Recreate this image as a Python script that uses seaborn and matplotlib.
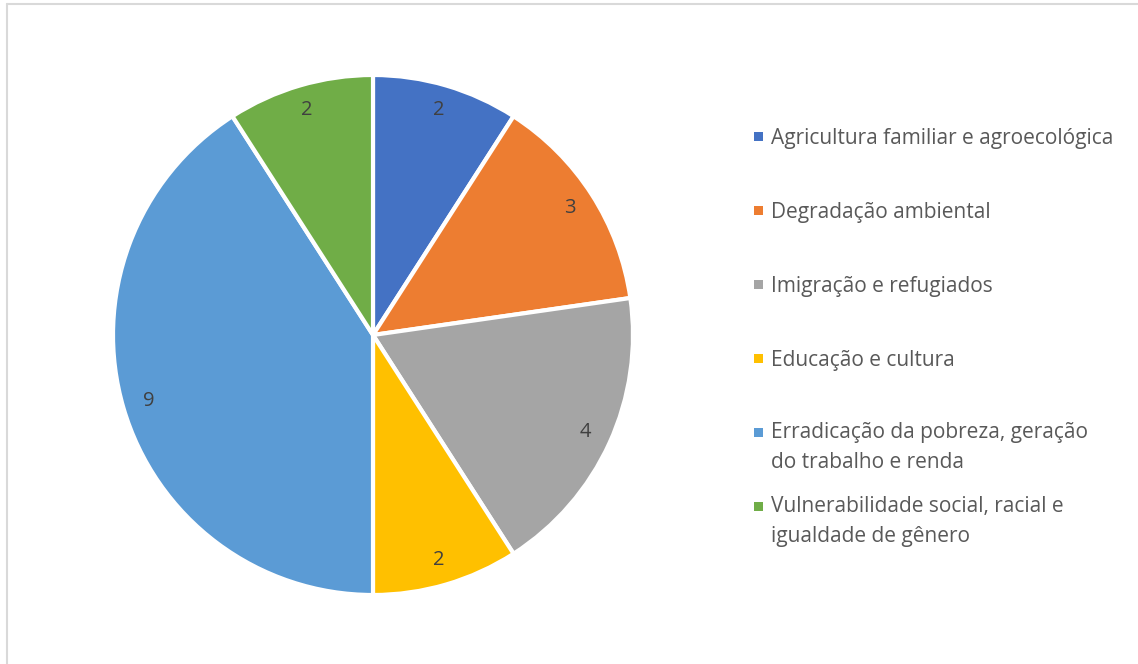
import matplotlib
matplotlib.use("Agg")
import matplotlib.pyplot as plt
import seaborn as sns
from matplotlib.patches import Rectangle
from matplotlib.lines import Line2D

categories = [
    "Agricultura familiar e agroecológica",
    "Degradação ambiental",
    "Imigração e refugiados",
    "Educação e cultura",
    "Erradicação da pobreza, geração\ndo trabalho e renda",
    "Vulnerabilidade social, racial e\nigualdade de gênero",
]
values = [2, 3, 4, 2, 9, 2]
colors = ["#4472C4", "#ED7D31", "#A5A5A5", "#FFC000", "#5B9BD5", "#70AD47"]

sns.set_theme(style="white")
plt.rcParams["font.family"] = ["Open Sans", "DejaVu Sans"]

W, H = 1138, 664
fig = plt.figure(figsize=(W / 100, H / 100), dpi=100)
fig.patch.set_facecolor("white")

# pie axes: center (373,335), radius 260 px
cx, cy, r = 373, 335, 260
ax = fig.add_axes([(cx - r) / W, (H - cy - r) / H, 2 * r / W, 2 * r / H])
wedges, texts = ax.pie(
    values,
    colors=colors,
    startangle=90,
    counterclock=False,
    labels=[str(v) for v in values],
    labeldistance=0.9,
    wedgeprops=dict(edgecolor="white", linewidth=3),
    textprops=dict(color="#404040", fontsize=14.5),
    radius=1.0,
)
for t in texts:
    t.set_ha("center")
    t.set_va("center")
ax.set_xlim(-1, 1)
ax.set_ylim(-1, 1)
ax.set_aspect("equal")
ax.axis("off")

# legend (manual, Excel-like spacing)
fs = 15
y0, step = 136, 74
for i, (lab, col) in enumerate(zip(categories, colors)):
    yc = y0 + i * step
    fig.add_artist(Rectangle(((758 - 4.5) / W, (H - yc - 4.5) / H), 9 / W, 9 / H,
                             facecolor=col, edgecolor="none", transform=fig.transFigure))
    if "\n" not in lab:
        fig.text(771 / W, (H - yc) / H, lab, color="#595959", fontsize=fs,
                 va="center_baseline", ha="left")
    else:
        fig.text(771 / W, (H - yc + 10) / H, lab, color="#595959", fontsize=fs,
                 va="top", ha="left", linespacing=1.55)

# chart area border (partially visible)
bc = "#D9D9D9"
fig.add_artist(Line2D([7 / W, 7 / W], [0, 1 - 4 / H], color=bc, lw=1.5, transform=fig.transFigure))
fig.add_artist(Line2D([7 / W, 1], [1 - 4 / H, 1 - 4 / H], color=bc, lw=1.5, transform=fig.transFigure))

fig.savefig("out.png", dpi=100)
